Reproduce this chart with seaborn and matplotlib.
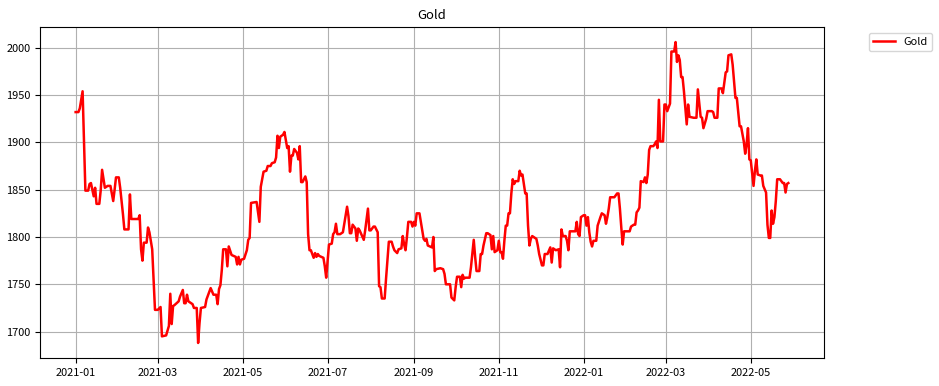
import matplotlib
matplotlib.use("Agg")
import matplotlib.pyplot as plt
import matplotlib.dates as mdates
import pandas as pd
import seaborn as sns

START_DATE = "2021-01-01"
SERIES_NAME = "Gold"

# days elapsed since START_DATE, and the gold price read on that day
day_offsets = [
    0, 2, 3, 5, 7, 9, 10, 11, 13, 14, 15, 17, 18, 19, 21, 23, 25, 27, 28, 29, 31, 32, 34, 35, 38, 39, 40, 45, 46, 47, 48, 49, 51, 52, 53, 55, 56, 57, 59, 61, 62, 65,
    67, 68, 69, 70, 71, 74, 75, 77, 78, 79, 80, 81, 84, 85, 87, 88, 89, 90, 93, 94, 96, 97, 99, 101, 102, 103, 104, 105, 106, 108, 109, 110, 112, 115, 116, 117, 118, 119, 121, 123, 124, 125, 126, 130, 132, 133, 135,
    137, 138, 140, 141, 143, 144, 145, 146, 147, 149, 150, 152, 153, 154, 155, 156, 157, 159, 160, 161, 162, 163, 165, 166, 167, 168, 169, 171, 172, 173, 174, 175, 178, 179, 180, 181, 182, 184, 185, 186, 187, 188, 190, 192, 193, 195, 196, 197, 198, 199, 201, 202,
    203, 204, 207, 208, 210, 211, 212, 214, 215, 217, 218, 219, 220, 222, 223, 225, 227, 228, 229, 231, 232, 234, 235, 236, 237, 238, 239, 241, 242, 243, 244, 245, 247, 248, 250, 251, 252, 253, 256, 257, 258, 259, 262, 264, 265, 266, 268, 269, 270,
    272, 273, 274, 276, 277, 278, 279, 280, 283, 284, 286, 287, 288, 290, 291, 292, 293, 295, 296, 298, 299, 300, 301, 303, 304, 305, 306, 307, 308, 309, 310, 311, 312, 313, 314, 315, 316, 318, 319, 320, 321, 322, 323, 324, 325, 326, 327, 328, 331, 332, 333, 335, 336, 337,
    339, 341, 342, 343, 345, 347, 348, 349, 350, 352, 353, 354, 355, 358, 359, 360, 361, 362, 363, 365, 366, 367, 368, 369, 370, 371, 372, 374, 375, 377, 378, 380, 381, 382, 383, 384, 387, 389, 390, 391, 392, 393, 394, 396, 398, 399, 401, 402, 403, 404, 405,
    406, 408, 409, 410, 411, 412, 413, 415, 416, 417, 418, 419, 420, 422, 423, 424, 425, 427, 428, 430, 431, 432, 433, 434, 435, 436, 437, 439, 440, 441, 444, 446, 447, 449, 450, 451, 453, 454, 457, 458, 459, 461, 462, 464, 465, 467, 468, 469, 471, 472, 474,
    475, 477, 478, 480, 481, 482, 483, 484, 485, 487, 488, 489, 490, 492, 493, 494, 496, 497, 498, 499, 500, 501, 502, 503, 504, 506, 508, 509, 510, 511, 512,
]

gold_prices = [
    1932, 1932, 1936, 1954, 1849, 1849, 1856, 1857, 1843, 1852, 1835, 1835, 1849, 1871, 1852, 1854, 1854, 1838, 1850, 1863, 1863, 1852, 1824, 1808, 1808, 1845, 1819, 1819, 1823, 1787, 1775, 1794, 1794, 1810, 1805, 1787, 1754, 1723, 1723, 1726, 1695, 1696,
    1706, 1740, 1708, 1727, 1728, 1732, 1737, 1744, 1730, 1730, 1739, 1732, 1729, 1725, 1725, 1688, 1709, 1725, 1726, 1734, 1742, 1746, 1739, 1739, 1729, 1745, 1749, 1765, 1787, 1787, 1769, 1790, 1781, 1779, 1771, 1779, 1771, 1776, 1777, 1786, 1797, 1799, 1836, 1837, 1816, 1853, 1869,
    1870, 1875, 1875, 1878, 1879, 1884, 1907, 1894, 1906, 1908, 1911, 1894, 1896, 1869, 1886, 1886, 1893, 1889, 1882, 1896, 1858, 1858, 1864, 1858, 1803, 1786, 1786, 1778, 1783, 1779, 1782, 1780, 1778, 1769, 1757, 1775, 1792, 1793, 1803, 1805, 1814, 1803, 1803, 1805, 1814, 1832, 1822, 1804, 1804, 1813, 1809, 1796,
    1809, 1807, 1797, 1807, 1830, 1807, 1807, 1811, 1811, 1805, 1748, 1747, 1735, 1735, 1756, 1795, 1795, 1790, 1786, 1783, 1787, 1788, 1801, 1792, 1786, 1800, 1816, 1816, 1811, 1816, 1812, 1825, 1825, 1816, 1798, 1796, 1798, 1791, 1789, 1800, 1764, 1766, 1767, 1766, 1761, 1750, 1750, 1750, 1736,
    1733, 1747, 1758, 1758, 1747, 1760, 1756, 1757, 1757, 1768, 1797, 1779, 1764, 1764, 1782, 1782, 1791, 1804, 1804, 1802, 1787, 1801, 1784, 1786, 1796, 1784, 1784, 1777, 1796, 1812, 1812, 1825, 1825, 1846, 1861, 1856, 1859, 1859, 1870, 1865, 1866, 1856, 1846, 1846, 1812, 1791, 1798, 1801, 1798, 1791, 1782, 1770, 1770, 1782,
    1782, 1789, 1773, 1788, 1786, 1787, 1768, 1808, 1801, 1801, 1796, 1786, 1806, 1806, 1806, 1816, 1803, 1801, 1821, 1823, 1823, 1812, 1821, 1805, 1795, 1790, 1796, 1796, 1812, 1821, 1825, 1823, 1814, 1821, 1830, 1842, 1842, 1846, 1846, 1830, 1810, 1792, 1806, 1806, 1806, 1811, 1813, 1813, 1826, 1828, 1831,
    1859, 1858, 1863, 1857, 1866, 1892, 1896, 1896, 1898, 1901, 1894, 1945, 1901, 1901, 1940, 1940, 1933, 1941, 1996, 1996, 2006, 1985, 1992, 1987, 1969, 1969, 1954, 1919, 1940, 1927, 1926, 1926, 1956, 1927, 1926, 1915, 1925, 1933, 1933, 1932, 1926, 1926, 1957, 1957, 1952, 1974, 1975, 1992, 1993, 1982, 1947,
    1947, 1917, 1917, 1901, 1888, 1898, 1915, 1882, 1881, 1854, 1870, 1882, 1866, 1865, 1865, 1854, 1847, 1813, 1799, 1799, 1828, 1814, 1821, 1838, 1861, 1861, 1857, 1857, 1847, 1856, 1857,
]

assert len(day_offsets) == len(gold_prices)

df = pd.DataFrame({
    "Date": pd.Timestamp(START_DATE) + pd.to_timedelta(day_offsets, unit="D"),
    "Price": gold_prices,
})

plt.rcParams["font.family"] = ["Noto Sans CJK KR", "DejaVu Sans"]
plt.rcParams["font.size"] = 7.9

fig, ax = plt.subplots(figsize=(9.39, 3.86), dpi=100)
fig.subplots_adjust(left=0.0426, right=0.8775, top=0.930, bottom=0.0725)

sns.lineplot(data=df, x="Date", y="Price", color="red", linewidth=1.8,
             label=SERIES_NAME, ax=ax)

ax.set_title(SERIES_NAME, fontsize=9.4)
ax.set_xlabel("")
ax.set_ylabel("")
ax.grid(True, color="#b0b0b0", linewidth=0.8)
ax.xaxis.set_major_locator(mdates.MonthLocator(bymonth=[1, 3, 5, 7, 9, 11]))
ax.xaxis.set_major_formatter(mdates.DateFormatter("%Y-%m"))
ax.legend(loc="upper left", bbox_to_anchor=(1.05, 1))

fig.savefig("out.png", dpi=100)
